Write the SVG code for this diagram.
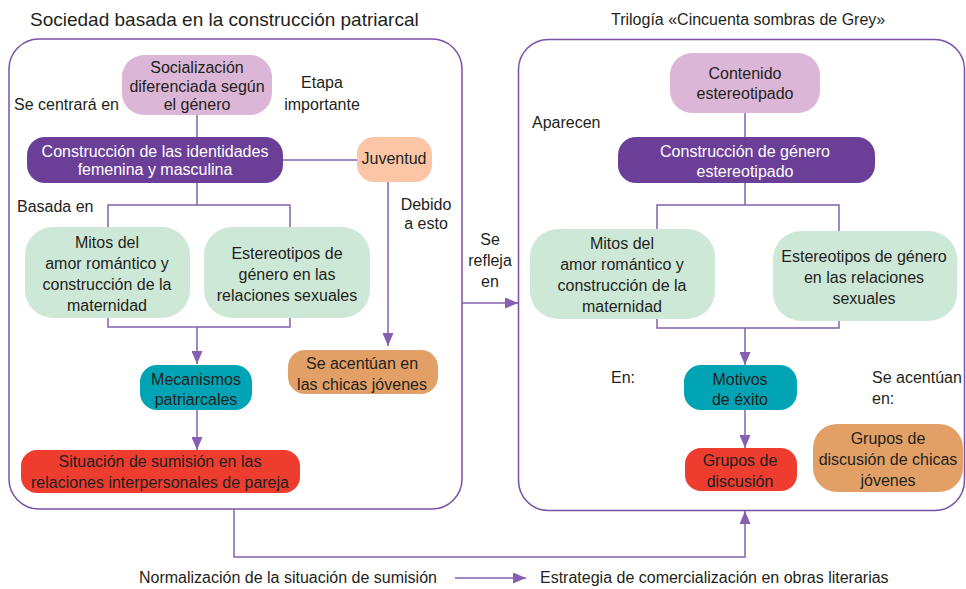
<svg xmlns="http://www.w3.org/2000/svg" width="966" height="589" viewBox="0 0 966 589">
<defs>
<marker id="arr" markerUnits="userSpaceOnUse" markerWidth="13" markerHeight="11" refX="13" refY="5.5" orient="auto">
<path d="M0,0 L13,5.5 L0,11 z" fill="#8560b0"/>
</marker>
<style>
text{font-family:"Liberation Sans",Arial,sans-serif;font-size:16px;fill:#231f20}
.c{text-anchor:middle}
.w{fill:#ffffff}
.title{font-size:19px}
.frame{fill:none;stroke:#7a50a8;stroke-width:1.5}
.ln{fill:none;stroke:#8560b0;stroke-width:1.5}
.la{fill:none;stroke:#8560b0;stroke-width:1.5;marker-end:url(#arr)}
.pink{fill:#dcb6d6}
.purple{fill:#6b3e97}
.peach{fill:#fcc6a6}
.green{fill:#cee8d7}
.teal{fill:#00a4b5}
.red{fill:#ee3d2f}
.orange{fill:#e3a066}
</style>
</defs>
<rect fill="#ffffff" x="0" y="0" width="966" height="589"/>

<text class="title" x="30" y="26">Sociedad basada en la construcción patriarcal</text>
<text x="611" y="25">Trilogía «Cincuenta sombras de Grey»</text>

<rect class="frame" x="9" y="39" width="453" height="470" rx="30"/>
<rect class="frame" x="518.5" y="39.5" width="446" height="471" rx="30"/>

<g id="connectors">
<path class="ln" d="M197 115 V137"/>
<path class="ln" d="M283 160 H357"/>
<path class="ln" d="M197 183 V205 M108 227 V205 H290 V227"/>
<path class="ln" d="M108 318 V327 H290 V318"/>
<path class="la" d="M197 327 V364"/>
<path class="la" d="M197 410 V450"/>
<path class="la" d="M388 182 V346"/>
<path class="la" d="M462 303 H518"/>
<path class="ln" d="M745 113 V137"/>
<path class="ln" d="M745 183 V205 M657 229 V205 H839 V231"/>
<path class="ln" d="M657 319 V328 H839 V321"/>
<path class="la" d="M745 328 V365"/>
<path class="la" d="M745 410 V448"/>
<path class="la" d="M234 509 V557 H745 V511"/>
<path class="la" d="M455 578 H526"/>
</g>

<g id="labels">
<text x="14" y="110">Se centrará en</text>
<text class="c" x="322" y="88">Etapa</text>
<text class="c" x="322" y="110">importante</text>
<text x="17" y="212">Basada en</text>
<text class="c" x="426" y="210">Debido</text>
<text class="c" x="426" y="229">a esto</text>
<text class="c" x="490" y="245">Se</text>
<text class="c" x="490" y="266">refleja</text>
<text class="c" x="490" y="287">en</text>
<text x="532" y="128">Aparecen</text>
<text x="611" y="383">En:</text>
<text x="872" y="383">Se acentúan</text>
<text x="872" y="404">en:</text>
<text x="139" y="583">Normalización de la situación de sumisión</text>
<text x="540" y="583">Estrategia de comercialización en obras literarias</text>
</g>

<g id="n-socializacion">
<rect class="pink" x="122" y="55" width="150" height="60" rx="22"/>
<text class="c" x="197" y="73">Socialización</text>
<text class="c" x="197" y="92">diferenciada según</text>
<text class="c" x="197" y="110">el género</text>
</g>
<g id="n-construccion-identidades">
<rect class="purple" x="27" y="137" width="256" height="46" rx="18"/>
<text class="c w" x="155" y="157">Construcción de las identidades</text>
<text class="c w" x="155" y="175">femenina y masculina</text>
</g>
<g id="n-juventud">
<rect class="peach" x="357" y="137" width="75" height="45" rx="17"/>
<text class="c" x="394" y="164">Juventud</text>
</g>
<g id="n-mitos-l">
<rect class="green" x="25" y="227" width="165" height="91" rx="28"/>
<text class="c" x="107" y="248">Mitos del</text>
<text class="c" x="107" y="269">amor romántico y</text>
<text class="c" x="107" y="290">construcción de la</text>
<text class="c" x="107" y="311">maternidad</text>
</g>
<g id="n-estereotipos-l">
<rect class="green" x="204" y="227" width="166" height="91" rx="28"/>
<text class="c" x="287" y="259">Estereotipos de</text>
<text class="c" x="287" y="280">género en las</text>
<text class="c" x="287" y="301">relaciones sexuales</text>
</g>
<g id="n-mecanismos">
<rect class="teal" x="140" y="365" width="112" height="45" rx="17"/>
<text class="c" x="196" y="385">Mecanismos</text>
<text class="c" x="196" y="405">patriarcales</text>
</g>
<g id="n-situacion">
<rect class="red" x="21" y="450" width="279" height="43" rx="16"/>
<text class="c" x="160" y="467">Situación de sumisión en las</text>
<text class="c" x="160" y="488">relaciones interpersonales de pareja</text>
</g>
<g id="n-acentuan-l">
<rect class="orange" x="288" y="350" width="150" height="44" rx="17"/>
<text class="c" x="362" y="369">Se acentúan en</text>
<text class="c" x="362" y="390">las chicas jóvenes</text>
</g>

<g id="n-contenido">
<rect class="pink" x="670" y="53" width="150" height="60" rx="22"/>
<text class="c" x="745" y="79">Contenido</text>
<text class="c" x="745" y="99">estereotipado</text>
</g>
<g id="n-construccion-genero">
<rect class="purple" x="618" y="137" width="257" height="46" rx="18"/>
<text class="c w" x="745" y="157">Construcción de género</text>
<text class="c w" x="745" y="177">estereotipado</text>
</g>
<g id="n-mitos-r">
<rect class="green" x="530" y="229" width="185" height="90" rx="28"/>
<text class="c" x="622" y="249">Mitos del</text>
<text class="c" x="622" y="270">amor romántico y</text>
<text class="c" x="622" y="291">construcción de la</text>
<text class="c" x="622" y="312">maternidad</text>
</g>
<g id="n-estereotipos-r">
<rect class="green" x="773" y="231" width="184" height="90" rx="28"/>
<text class="c" x="864" y="262">Estereotipos de género</text>
<text class="c" x="864" y="283">en las relaciones</text>
<text class="c" x="864" y="304">sexuales</text>
</g>
<g id="n-motivos">
<rect class="teal" x="684" y="365" width="113" height="45" rx="17"/>
<text class="c" x="740" y="385">Motivos</text>
<text class="c" x="740" y="405">de éxito</text>
</g>
<g id="n-grupos">
<rect class="red" x="685" y="448" width="112" height="43" rx="16"/>
<text class="c" x="740" y="466">Grupos de</text>
<text class="c" x="740" y="487">discusión</text>
</g>
<g id="n-grupos-chicas">
<rect class="orange" x="813" y="424" width="150" height="68" rx="24"/>
<text class="c" x="888" y="444">Grupos de</text>
<text class="c" x="888" y="465">discusión de chicas</text>
<text class="c" x="888" y="486">jóvenes</text>
</g>
</svg>
